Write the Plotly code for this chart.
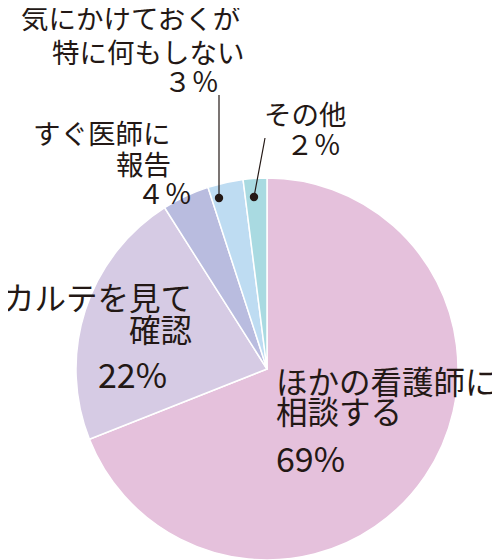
import plotly.graph_objects as go

categories = ["ほかの看護師に相談する", "カルテを見て確認", "すぐ医師に報告", "気にかけておくが特に何もしない", "その他"]
values = [69, 22, 4, 3, 2]
colors = ["#e5c1dc", "#d6cbe4", "#b9bcdf", "#bedcf2", "#a9dae1"]

# page has 8px body margin: figure is drawn at (8, 8) in the window
OFF = 8
W, H = 500 - OFF, 560 - OFF
FONT = "Noto Sans CJK JP"

def px(x, y):
    return (x - OFF) / W, 1 - (y - OFF) / H

dx0, _ = px(76, 0)
dx1, _ = px(458, 0)
_, dy1 = px(0, 178)

fig = go.Figure(go.Pie(
    labels=categories, values=values, sort=False, direction="clockwise", rotation=0,
    marker=dict(colors=colors, line=dict(color="white", width=1.5)),
    textinfo="none", hoverinfo="label+percent",
    domain=dict(x=[dx0, dx1], y=[0, dy1]),
))

S, B, N = 27.5, 31.5, 34
annots = [
    ("気にかけておくが", 242, 17, "right", S),
    ("特に何もしない", 247, 51, "right", S),
    ("３％", 221, 80, "right", S),
    ("その他", 262, 113, "left", S),
    ("２％", 343, 143, "right", S),
    ("すぐ医師に", 173, 132, "right", S),
    ("報告", 173, 163, "right", S),
    ("４％", 194, 192, "right", S),
    ("カルテを見て", 194, 296, "right", B),
    ("確認", 194, 328, "right", B),
    ("22%", 96, 373, "left", N),
    ("ほかの看護師に", 274, 380, "left", B),
    ("相談する", 274, 410, "left", B),
    ("69%", 274, 457, "left", N),
]
for t, x, y, anc, s in annots:
    ax, ay = px(x, y)
    fig.add_annotation(text=t, x=ax, y=ay, xref="paper", yref="paper", xanchor=anc, yanchor="middle",
                       showarrow=False, font=dict(family=FONT, size=s, color="#231815"))

lines = [((219, 95), (219, 198)), ((265, 138), (254, 197))]
for (x0, y0), (x1, y1) in lines:
    a0, b0 = px(x0, y0)
    a1, b1 = px(x1, y1)
    fig.add_shape(type="line", x0=a0, y0=b0, x1=a1, y1=b1, xref="paper", yref="paper",
                  line=dict(color="#231815", width=1.2))
    r = 4.2
    c0x, c0y = px(x1 - r, y1 + r)
    c1x, c1y = px(x1 + r, y1 - r)
    fig.add_shape(type="circle", x0=c0x, x1=c1x, y0=c0y, y1=c1y,
                  xref="paper", yref="paper", fillcolor="#231815", line=dict(width=0))

fig.update_layout(width=W, height=H, margin=dict(l=0, r=0, t=0, b=0), showlegend=False,
                  paper_bgcolor="white", plot_bgcolor="white")
fig.write_html("out.html")
